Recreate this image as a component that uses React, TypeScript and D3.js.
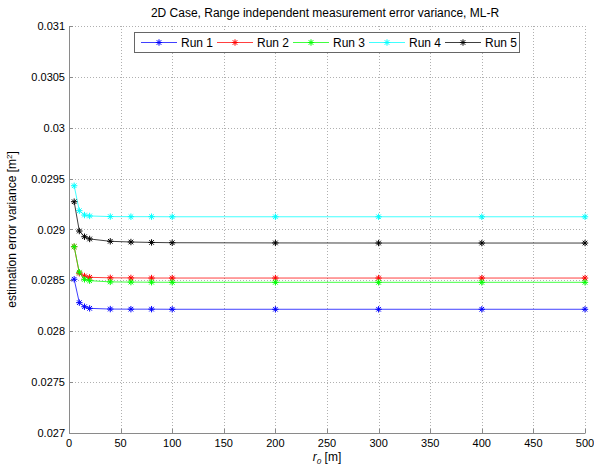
import React, { useEffect, useRef } from "react"
import * as d3 from "d3"

const xValues = [5, 10, 15, 20, 40, 60, 80, 100, 200, 300, 400, 500]
const run1 = [0.028511, 0.028281, 0.028241, 0.028225, 0.028218, 0.028217, 0.028217, 0.028216, 0.028216, 0.028216, 0.028216, 0.028216]
const run2 = [0.028831, 0.02857, 0.028543, 0.02853, 0.028525, 0.028524, 0.028523, 0.028523, 0.028523, 0.028523, 0.028523, 0.028523]
const run3 = [0.028831, 0.02858, 0.02851, 0.028497, 0.028485, 0.028483, 0.028482, 0.028481, 0.028481, 0.028481, 0.028481, 0.028481]
const run4 = [0.02943, 0.029185, 0.029142, 0.029133, 0.029127, 0.029126, 0.029126, 0.029125, 0.029125, 0.029125, 0.029125, 0.029125]
const run5 = [0.029273, 0.028985, 0.028929, 0.028907, 0.028884, 0.028877, 0.028873, 0.02887, 0.028868, 0.028867, 0.028867, 0.028867]

const runNames = ["Run 1", "Run 2", "Run 3", "Run 4", "Run 5"]
const runColors = ["#0000ff", "#ff0000", "#00ff00", "#00ffff", "#000000"]
const runs = [run1, run2, run3, run4, run5]

const xTicks = [0, 50, 100, 150, 200, 250, 300, 350, 400, 450, 500]
const yTicks = [0.027, 0.0275, 0.028, 0.0285, 0.029, 0.0295, 0.03, 0.0305, 0.031]
const yTickLabels = ["0.027", "0.0275", "0.028", "0.0285", "0.029", "0.0295", "0.03", "0.0305", "0.031"]

const W = 594
const H = 468
const left = 69
const right = 585
const top = 26
const bottom = 433

function drawStar(g, x, y, color) {
    const r = 3.2
    const d = r * 0.72
    const p = `M${x - r},${y}L${x + r},${y}M${x},${y - r}L${x},${y + r}` +
        `M${x - d},${y - d}L${x + d},${y + d}M${x - d},${y + d}L${x + d},${y - d}`
    g.append("path").attr("d", p).attr("stroke", color).attr("stroke-width", 1).attr("fill", "none")
}

export default function App() {
    const ref = useRef(null)

    useEffect(() => {
        const svg = d3.select(ref.current)
        svg.selectAll("*").remove()
        const font = "Arial, 'Liberation Sans', sans-serif"

        const x = d3.scaleLinear().domain([0, 500]).range([left, right])
        const y = d3.scaleLinear().domain([0.027, 0.031]).range([bottom, top])

        svg.append("rect").attr("width", W).attr("height", H).attr("fill", "#fff")

        // grid (top and right edges are dotted too)
        const grid = svg.append("g").attr("stroke", "#b0b0b0").attr("stroke-dasharray", "1,2").attr("stroke-width", 1)
        xTicks.slice(1).forEach(t => {
            grid.append("line").attr("x1", Math.round(x(t)) + 0.5).attr("x2", Math.round(x(t)) + 0.5)
                .attr("y1", top).attr("y2", bottom)
        })
        yTicks.slice(1).forEach(t => {
            grid.append("line").attr("y1", Math.round(y(t)) + 0.5).attr("y2", Math.round(y(t)) + 0.5)
                .attr("x1", left).attr("x2", right)
        })

        // left and bottom axis lines + ticks
        const ax = svg.append("g").attr("stroke", "#8a8a8a").attr("stroke-width", 1)
        ax.append("line").attr("x1", left + 0.5).attr("x2", left + 0.5).attr("y1", top).attr("y2", bottom + 0.5)
        ax.append("line").attr("x1", left).attr("x2", right + 0.5).attr("y1", bottom + 0.5).attr("y2", bottom + 0.5)
        xTicks.forEach(t => {
            const px = Math.round(x(t)) + 0.5
            ax.append("line").attr("x1", px).attr("x2", px).attr("y1", bottom).attr("y2", bottom - 4)
        })
        yTicks.forEach(t => {
            const py = Math.round(y(t)) + 0.5
            ax.append("line").attr("y1", py).attr("y2", py).attr("x1", left).attr("x2", left + 4)
        })

        // tick labels
        xTicks.forEach(t => {
            svg.append("text").attr("x", x(t)).attr("y", bottom + 14).attr("text-anchor", "middle")
                .attr("font-family", font).attr("font-size", 11).text(t)
        })
        yTicks.forEach((t, i) => {
            svg.append("text").attr("x", left - 4).attr("y", y(t) + 4).attr("text-anchor", "end")
                .attr("font-family", font).attr("font-size", 11).text(yTickLabels[i])
        })

        // lines
        const line = d3.line().x(d => x(d[0])).y(d => y(d[1]))
        runs.forEach((r, i) => {
            const pts = xValues.map((v, j) => [v, r[j]])
            svg.append("path").attr("d", line(pts)).attr("fill", "none")
                .attr("stroke", runColors[i]).attr("stroke-width", 1).attr("stroke-opacity", 0.75)
            const mg = svg.append("g")
            pts.forEach(p => drawStar(mg, x(p[0]), y(p[1]), runColors[i]))
        })

        // title
        svg.append("text").attr("x", 325).attr("y", 17).attr("text-anchor", "middle")
            .attr("font-family", font).attr("font-size", 12).text("2D Case, Range independent measurement error variance, ML-R")

        // axis labels
        const xl = svg.append("text").attr("x", (left + right) / 2).attr("y", 461).attr("text-anchor", "middle")
            .attr("font-family", font).attr("font-size", 12)
        xl.append("tspan").attr("font-style", "italic").text("r")
        xl.append("tspan").attr("font-style", "italic").attr("font-size", 8).attr("dy", 3).text("0")
        xl.append("tspan").attr("dy", -3).text(" [m]")

        const yl = svg.append("text").attr("transform", `translate(16,${(top + bottom) / 2}) rotate(-90)`)
            .attr("text-anchor", "middle").attr("font-family", font).attr("font-size", 12)
        yl.append("tspan").text("estimation error variance [m")
        yl.append("tspan").attr("font-size", 8).attr("dy", -4).text("2")
        yl.append("tspan").attr("dy", 4).text("]")

        // legend
        const lg = svg.append("g")
        lg.append("rect").attr("x", 134.5).attr("y", 32.5).attr("width", 385).attr("height", 20)
            .attr("fill", "#fff").attr("stroke", "#666")
        runNames.forEach((n, i) => {
            const x0 = 141 + i * 76
            lg.append("line").attr("x1", x0).attr("x2", x0 + 36).attr("y1", 42.5).attr("y2", 42.5)
                .attr("stroke", runColors[i]).attr("stroke-opacity", 0.75)
            drawStar(lg, x0 + 18, 42.5, runColors[i])
            lg.append("text").attr("x", x0 + 40).attr("y", 47).attr("font-family", font)
                .attr("font-size", 12).text(n)
        })
    }, [])

    return <svg ref={ref} width={W} height={H} style={{ position: "absolute", left: 0, top: 0 }} />
}
